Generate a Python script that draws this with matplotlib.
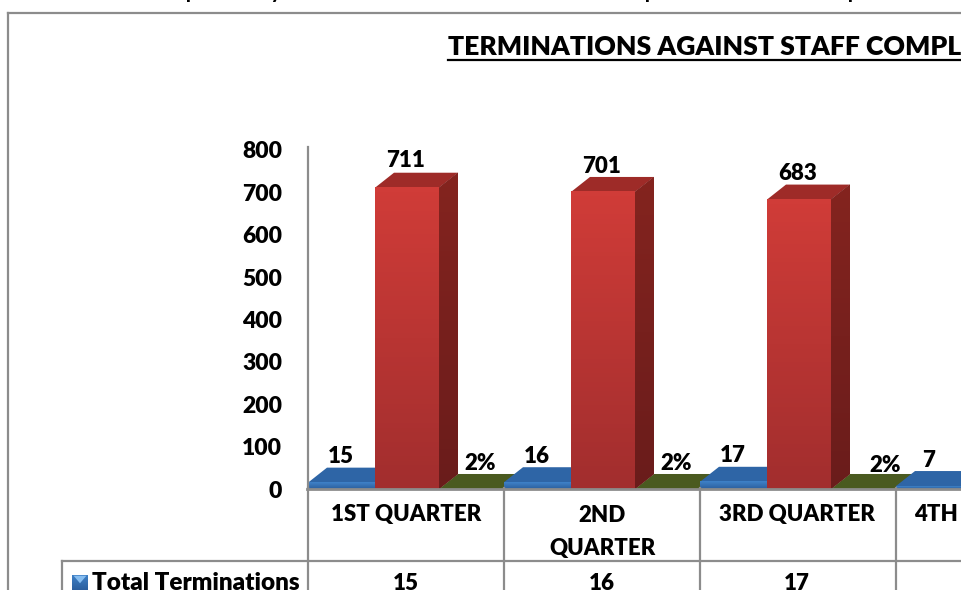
import numpy as np
import matplotlib
matplotlib.use('Agg')
import matplotlib.pyplot as plt
from matplotlib.colors import LinearSegmentedColormap
from matplotlib.patches import Polygon
from matplotlib.transforms import Affine2D

plt.rcParams['font.family'] = ['Lato', 'DejaVu Sans']
plt.rcParams['font.weight'] = 'heavy'

#datos
quarters = ['1ST QUARTER', '2ND\nQUARTER', '3RD QUARTER', '4TH QUARTER']
terminations = [15, 16, 17, 7]
complement = [711, 701, 683]
percent = [0.02, 0.02, 0.02]
percent_labels = ['2%', '2%', '2%']
table_row = ['15', '16', '17']
yticks = [0, 100, 200, 300, 400, 500, 600, 700, 800]
title = 'TERMINATIONS AGAINST STAFF COMPLEMENT'

W, H = 962, 590
GREY = '#8c8c8c'

fig = plt.figure(figsize=(W/100, H/100), dpi=100)
ax = fig.add_axes([308/W, (H-489)/H, (W-308)/W, 339/H])
ax.set_xlim(0, (W-308)/196)
ax.set_ylim(0, 800)

#transformacion en pixeles de la imagen (y hacia abajo)
px = Affine2D().scale(1, -1).translate(0, H)

ax.set_xticks([])
ax.set_yticks(yticks)
ax.tick_params(axis='y', length=0, pad=18.5, labelsize=16.5)
for s in ['top', 'right', 'bottom', 'left']:
    ax.spines[s].set_visible(False)

dx = 19/196
dy = 15/339*800


def grad(x0, x1, y0, y1, c_top, c_bot, z, clip=None):
    cm = LinearSegmentedColormap.from_list('g', [c_top, c_bot])
    im = ax.imshow(np.linspace(0, 1, 64).reshape(-1, 1), extent=(x0, x1, y0, y1), cmap=cm,
                   aspect='auto', origin='upper', zorder=z, clip_on=clip is not None)
    if clip is not None:
        im.set_clip_path(clip)


def box(x0, x1, v, front, side, top, z):
    #cara superior y lateral, luego el frente con degradado
    ax.add_patch(Polygon([(x0, v), (x0+dx, v+dy), (x1+dx, v+dy), (x1, v)], fc=top, ec='none', zorder=z, clip_on=False))
    s = Polygon([(x1, 0), (x1+dx, dy), (x1+dx, v+dy), (x1, v)], fc=side[1], ec='none', zorder=z, clip_on=False)
    ax.add_patch(s)
    grad(x1, x1+dx, 0, v+dy, side[0], side[1], z+0.05, clip=s)
    grad(x0, x1, 0, v, front[0], front[1], z+0.1)


BLUE = (('#3f82c8', '#2c5f9e'), ('#2a5a94', '#24507f'), '#2e65a6')
RED = (('#d03c38', '#a22e2e'), ('#84241f', '#6a1c1b'), '#9e2b28')
GREEN = (('#566b24', '#4a5c20'), ('#4a5c20', '#4a5c20'), '#4a5a20')

z = 2
for i in range(3):
    g = float(i)
    box(g, g+67/196, terminations[i], *BLUE, z)
    box(g+67/196, g+131/196, complement[i], *RED, z+1)
    box(g+131/196, g+1, percent[i], *GREEN, z+0.5)
    z += 2
box(3.0, 3+67/196+0.1, terminations[3], *BLUE, z)

#etiquetas de valores
for i in range(4):
    ax.text(i+33/196, terminations[i]+dy+1, str(terminations[i]), ha='center', va='bottom', fontsize=16, zorder=20)
for i, off in enumerate([4, 0, 2]):
    ax.text(i+98/196, complement[i]+dy+off, str(complement[i]), ha='center', va='bottom', fontsize=16, zorder=20)
for i, (xoff, off) in enumerate(zip([172, 172, 185], [0, 0, -5])):
    ax.text(i+xoff/196, percent[i]+dy+off, percent_labels[i], ha='center', va='bottom', fontsize=16, zorder=20)


#marco, rejilla de la tabla
def line(xs, ys, lw=1.6):
    fig.add_artist(plt.Line2D(xs, ys, transform=px, color=GREY, lw=lw, zorder=30))


line([8, W], [13, 13])
line([8, 8], [13, H])
line([308, 308], [147, 489])
line([307, W], [489, 489], lw=2)
line([62, W], [561, 561])
line([62, 62], [561, H])
for x in [308, 504, 700, 896]:
    line([x, x], [488, H])

for x, q in zip([406, 602, 797, 992], quarters):
    fig.text(x, 515 if '\n' not in q else 532, q, transform=px, ha='center', va='center', fontsize=16, linespacing=1.65)
for x, t in zip([406, 602, 797], table_row):
    fig.text(x, 583, t, transform=px, ha='center', va='center', fontsize=16)

#leyenda de la tabla
fig.text(92, 583, 'Total Terminations', transform=px, ha='left', va='center', fontsize=17.5)
lax = fig.add_axes([72/W, 0, 16/W, 15/H])
lax.imshow(np.linspace(0, 1, 32).reshape(-1, 1),
           cmap=LinearSegmentedColormap.from_list('k', ['#3f82c8', '#2c5f9e']), aspect='auto',
           extent=(0, 1, 0, 1))
lax.add_patch(Polygon([(0.1, 0.95), (0.9, 0.95), (0.5, 0.45)], fc='#86bdf0', ec='none'))
lax.axis('off')

#titulo subrayado
fig.text(448, 47, title, transform=px, ha='left', va='center', fontsize=19.1)
fig.add_artist(plt.Line2D([448, W], [60, 60], transform=px, color='black', lw=1.6))

#trazos de la linea de texto cortada arriba
for x, t in zip([191, 275, 650, 853], ['p', 'y', 'p', 'p']):
    fig.text(x, -1.2, t, transform=px, ha='center', va='baseline', fontsize=13)

fig.savefig('out.png', dpi=100)
